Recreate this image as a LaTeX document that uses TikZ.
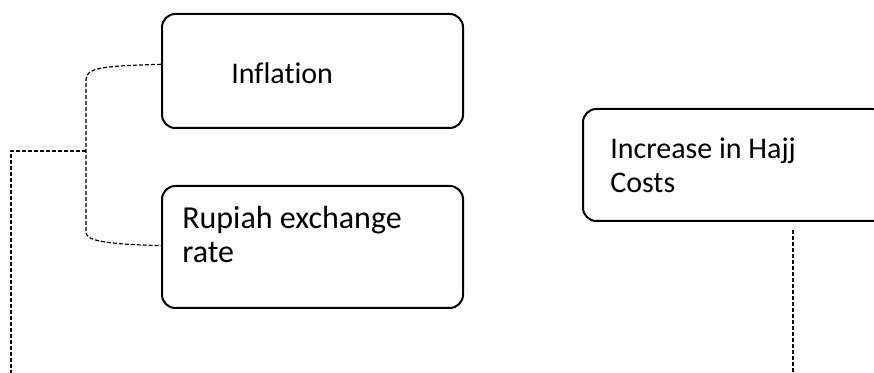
\documentclass[tikz,border=0pt]{standalone}
\usepackage{fontspec}
\setmainfont{Carlito}[Ligatures=NoCommon]
\tikzset{
  factor/.style={draw, line width=1.5pt, rounded corners=10pt, inner sep=0pt},
  lbl/.style={inner sep=0pt, align=left, font=\fontsize{22.5}{25.5}\selectfont},
  link/.style={line width=0.9pt, dash pattern=on 3pt off 1.5pt}
}
\begin{document}
\begin{tikzpicture}[x=0.75pt, y=-0.75pt]
      \useasboundingbox (0,0) rectangle (874,373);
      \node[factor, minimum width=225.75pt, minimum height=85.5pt] (infl) at (312.5,71) {};
      \node[factor, minimum width=225.75pt, minimum height=91.5pt] (rupiah) at (312.5,247) {};
      \node[factor, minimum width=226.5pt, minimum height=84pt] (hajj) at (734,165) {};
      \node[lbl, anchor=base west] (infltext) at (231,84) {Inflation};
      \node[lbl, anchor=base west, font=\fontsize{24}{25.5}\selectfont] (rupiahtext) at (182,263) {Rupiah exchange\\rate};
      \node[lbl, anchor=base west] (hajjtext) at (610,193) {Increase in Hajj\\Costs};
      \coordinate (brk) at (86,151);
      \coordinate (lft) at (11,151);
      \coordinate (lbot) at (11,380);
      \coordinate (rtop) at (793,230);
      \coordinate (rbot) at (793,380);
      \begin{scope}[link]
        \draw ([yshift=5pt]infl.west) .. controls (100,66) and (86,68) .. (86,80)
          -- (86,232) .. controls (86,240) and (100,244) .. ([yshift=1pt]rupiah.west);
        \draw (brk) -- (lft) -- (lbot);
        \draw (rtop) -- (rbot);
      \end{scope}
    \end{tikzpicture}
\end{document}
